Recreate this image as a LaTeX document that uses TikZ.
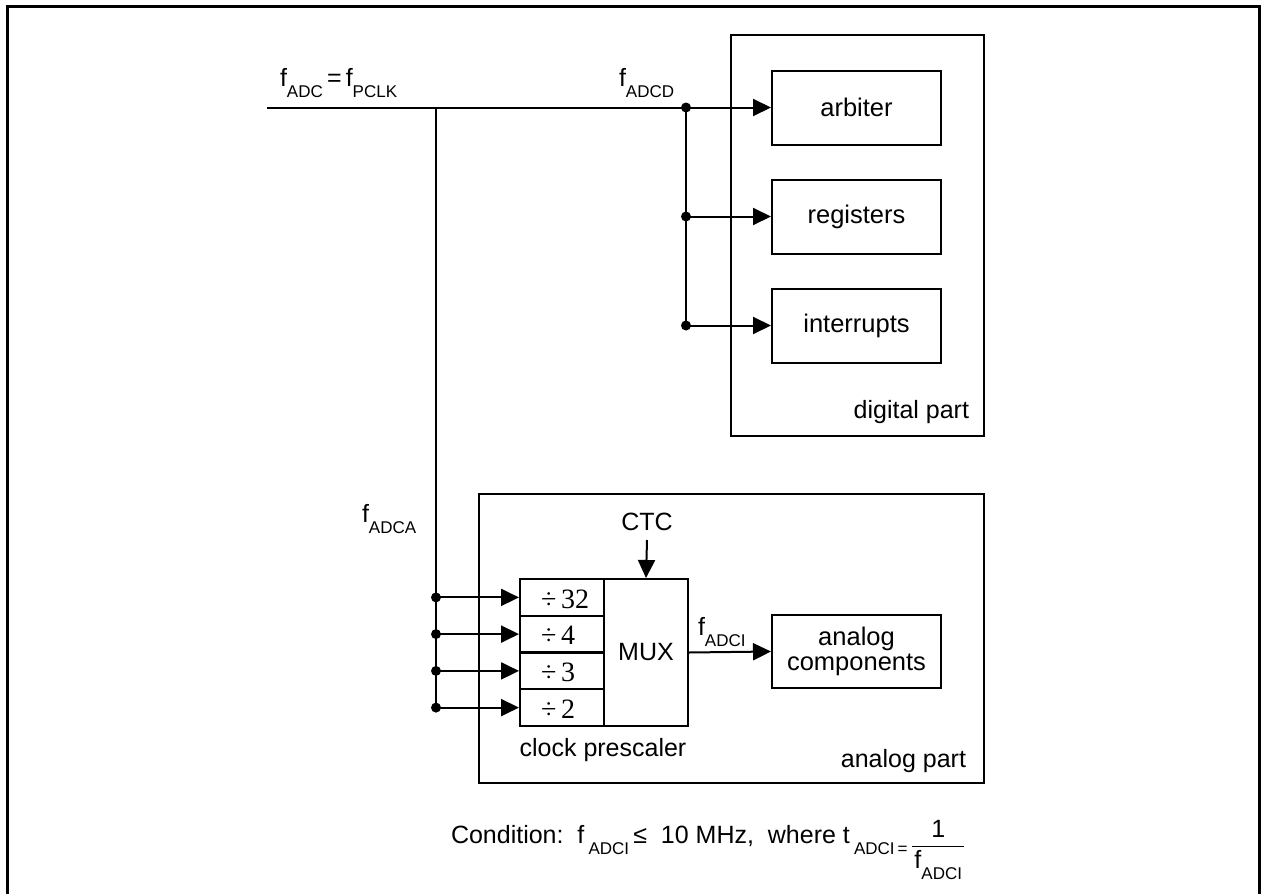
\documentclass[tikz,border=0pt]{standalone}
\usepackage{fontspec}
\setmainfont{Liberation Sans}
\newfontfamily\divfont{Liberation Serif}
\usetikzlibrary{arrows.meta}
\newcommand{\sbs}[1]{\raisebox{-0.45em}{\fontsize{17}{17}\selectfont #1}}
\begin{document}
\begin{tikzpicture}[x=1pt,y=-1pt,
 line width=2pt,
 frame/.style={draw, line width=2pt, inner sep=0pt},
 box/.style={draw, line width=2pt, minimum width=169pt, minimum height=74pt, inner sep=0pt, align=center, font=\fontsize{25.5}{27}\selectfont},
 lbl/.style={inner sep=0pt, font=\fontsize{25}{27}\selectfont},
 arr/.style={-{Triangle[length=18pt,width=17pt]}, line width=2pt},
 dot/.style={circle, fill=black, inner sep=0pt, minimum size=10pt},
 cell/.style={draw, line width=2pt, minimum width=84pt, minimum height=36.75pt, inner sep=0pt},
 divlbl/.style={inner sep=0pt, anchor=west, font=\divfont\fontsize{28}{28}\selectfont}
]
\useasboundingbox (0,0) rectangle (1261,894);
% outer frame
\coordinate (fbl) at (7,900);
\coordinate (ftl) at (7,6);
\coordinate (ftr) at (1259.5,6);
\coordinate (fbr) at (1259.5,900);
\draw[line width=3pt] (fbl) -- (ftl) -- (ftr) -- (fbr);

% digital part
\node[frame, minimum width=253pt, minimum height=401pt, anchor=north west] (dig) at (730,34) {};
\node[lbl, anchor=base east] (diglbl) at (970,418) {digital part};
\node[box] (arb) at (856.5,107.5) {arbiter};
\node[box] (reg) at (856.5,216.5) {registers};
\node[box] (irq) at (856.5,325.5) {interrupts};

% clock lines
\coordinate (in) at (267,107.5);
\coordinate (ja) at (436,107.5);
\node[dot] (d1) at (686,107.5) {};
\node[dot] (d2) at (686,216.5) {};
\node[dot] (d3) at (686,325.5) {};
\draw (in) -- (d1.center);
\draw (d1.center) -- (d3.center);
\draw[arr] (d1.center) -- (arb.west);
\draw[arr] (d2.center) -- (reg.west);
\draw[arr] (d3.center) -- (irq.west);

\node[lbl, anchor=base west] (fadc) at (279,86) {f\sbs{ADC}\,=\,f\sbs{PCLK}};
\node[lbl, anchor=base west] (fadcd) at (618,86) {f\sbs{ADCD}};
\node[lbl, anchor=base west] (fadca) at (361,522) {f\sbs{ADCA}};

% analog part
\node[frame, minimum width=505pt, minimum height=289pt, anchor=north west] (ana) at (478,493) {};
\node[lbl, anchor=base east] (analbl) at (967,767) {analog part};

\node[cell] (c1) at (562,597.4) {};
\node[cell] (c2) at (562,634.1) {};
\node[cell] (c3) at (562,670.9) {};
\node[cell] (c4) at (562,707.6) {};
\node[divlbl] at (540,599) {÷\,32};
\node[divlbl] at (540,635.5) {÷\,4};
\node[divlbl] at (540,672) {÷\,3};
\node[divlbl] at (540,709) {÷\,2};
\node[draw, line width=2pt, minimum width=84pt, minimum height=147pt, inner sep=0pt, font=\fontsize{25}{27}\selectfont] (mux) at (646,652.5) {MUX};

\node[lbl] (ctc) at (647,522) {CTC};
\coordinate (ctcs) at (647,540);
\draw[arr] (ctcs) -- (mux.north);

\node[box, minimum height=73pt] (ac) at (856.5,651.5) {analog\\[-2pt]components};
\draw[arr] (mux.east) -- (ac.west);
\node[lbl, anchor=base west] (fadci) at (697,635) {f\sbs{ADCI}};

\node[lbl, anchor=base] (cps) at (603,756) {clock prescaler};

\node[dot] (p1) at (436,597.4) {};
\node[dot] (p2) at (436,634.1) {};
\node[dot] (p3) at (436,670.9) {};
\node[dot] (p4) at (436,707.6) {};
\draw (ja) -- (p4.center);
\draw[arr] (p1.center) -- (c1.west);
\draw[arr] (p2.center) -- (c2.west);
\draw[arr] (p3.center) -- (c3.west);
\draw[arr] (p4.center) -- (c4.west);

% condition
\node[inner sep=0pt, anchor=base west, font=\fontsize{25}{27}\selectfont] (cond) at (450,843)
  {Condition:\ \ f\,\sbs{ADCI}\,≤\ \ 10 MHz,\ \ where t\,\sbs{ADCI\,=}};
\node[inner sep=0pt, anchor=west, font=\fontsize{25}{27}\selectfont] (frac) at ([xshift=3pt,yshift=-8pt]cond.east)
  {\setlength{\tabcolsep}{2pt}\renewcommand{\arraystretch}{1.15}\begin{tabular}{c}1\\\hline f\sbs{ADCI}\end{tabular}};
\end{tikzpicture}
\end{document}
